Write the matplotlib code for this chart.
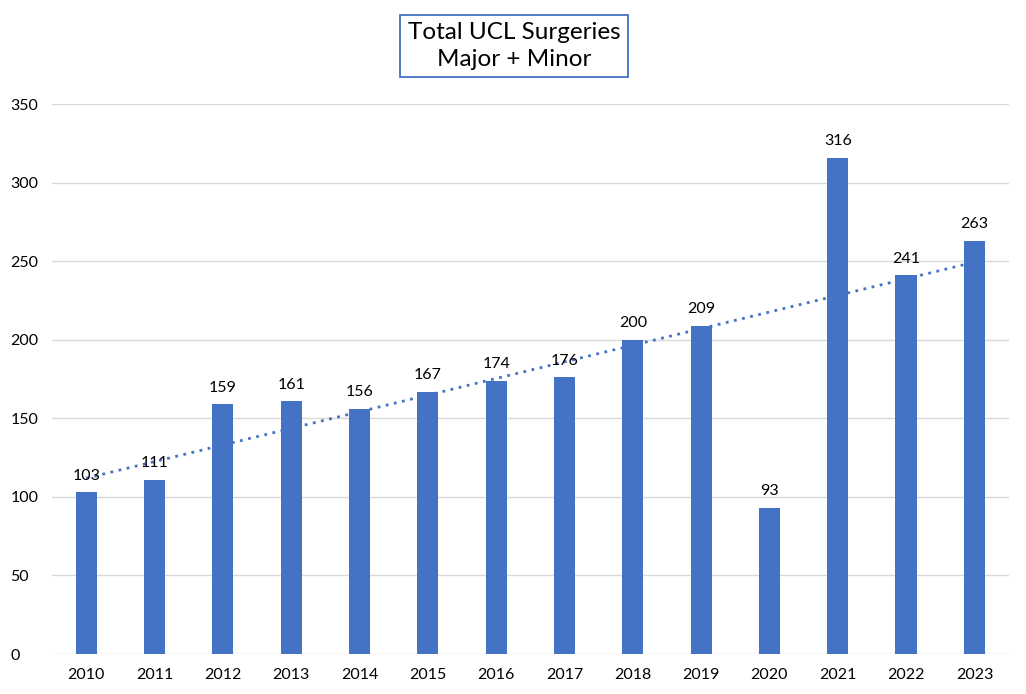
import numpy as np
import matplotlib
matplotlib.use("Agg")
import matplotlib.pyplot as plt

years = ["2010", "2011", "2012", "2013", "2014", "2015", "2016",
         "2017", "2018", "2019", "2020", "2021", "2022", "2023"]
surgeries = [103, 111, 159, 161, 156, 167, 174, 176, 200, 209, 93, 316, 241, 263]

plt.rcParams['font.family'] = ['Lato', 'DejaVu Sans']

fig = plt.figure(figsize=(10.26, 6.94), dpi=100)
ax = fig.add_axes([0.0507, 0.0576, 0.9323, 0.7924])

x = np.arange(len(years))
bars = ax.bar(x, surgeries, width=0.31, color="#4472C4", zorder=3)

# linear trendline like excel
k, b = np.polyfit(x, surgeries, 1)
ax.plot(x, k * x + b, linestyle=(0, (1, 2)), color="#4472C4", linewidth=2, zorder=4)

for xi, v in zip(x, surgeries):
    ax.text(xi, v + 6, str(v), ha="center", va="bottom", fontsize=11.5, color="black", zorder=5)

ax.set_xlim(-0.5, len(years) - 0.5)
ax.set_ylim(0, 350)
ax.set_yticks(range(0, 351, 50))
ax.set_xticks(x)
ax.set_xticklabels(years)
ax.tick_params(axis="both", length=0, labelsize=11.5, colors="black")
ax.tick_params(axis="x", pad=10)
ax.tick_params(axis="y", pad=30)
for lab in ax.get_yticklabels():
    lab.set_horizontalalignment("left")
ax.grid(axis="y", color="#D9D9D9", linewidth=1, zorder=0)
for s in ax.spines.values():
    s.set_visible(False)

fig.text(0.501, 0.934, "Total UCL Surgeries\nMajor + Minor", ha="center", va="center",
         fontsize=17.5, linespacing=1.35,
         bbox=dict(boxstyle="square,pad=0.3", facecolor="white", edgecolor="#4472C4", linewidth=1.3))

fig.savefig("out.png", dpi=100)
